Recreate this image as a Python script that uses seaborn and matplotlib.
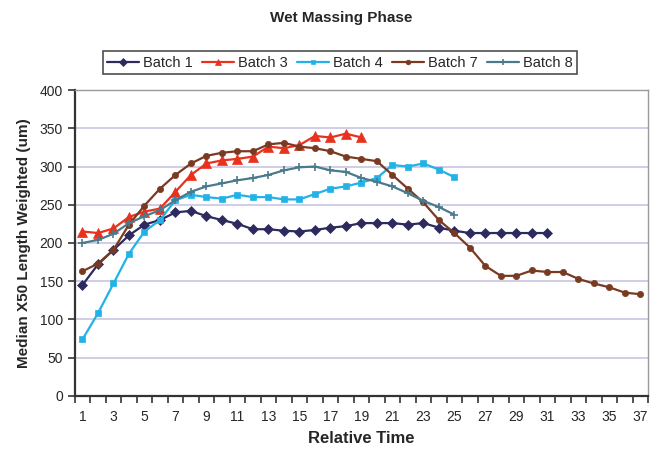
#!/usr/bin/env python3

import pandas
import seaborn as sns
import matplotlib.pyplot as plt
from matplotlib.ticker import MultipleLocator, FixedLocator

# Median X50 readings per batch
batch1 = [145, 172, 191, 210, 224, 230, 240, 242, 235, 230, 225, 218, 218, 216, 215, 217,
          220, 222, 226, 226, 226, 224, 226, 220, 216, 213, 213, 213, 213, 213, 213]
batch3 = [215, 213, 219, 234, 241, 245, 267, 289, 304, 308, 310, 313, 326, 324, 328, 340,
          338, 343, 338]
batch4 = [74, 108, 147, 186, 215, 230, 256, 263, 260, 258, 263, 260, 260, 257, 257, 264,
          271, 274, 279, 285, 302, 300, 304, 296, 286]
batch7 = [163, 173, 191, 224, 249, 271, 289, 304, 314, 318, 320, 320, 329, 331, 326, 324,
          320, 313, 310, 307, 289, 271, 253, 230, 213, 194, 170, 157, 157, 164, 162, 162,
          153, 147, 142, 135, 133]
batch8 = [200, 204, 212, 226, 235, 243, 256, 267, 274, 278, 282, 285, 289, 295, 299, 300,
          295, 293, 285, 280, 274, 265, 255, 247, 237]

series = {
    "Batch 1": batch1,
    "Batch 3": batch3,
    "Batch 4": batch4,
    "Batch 7": batch7,
    "Batch 8": batch8,
}
palette = {
    "Batch 1": "#2d2a5e",
    "Batch 3": "#e8321e",
    "Batch 4": "#22b2e6",
    "Batch 7": "#7a3a22",
    "Batch 8": "#4a7a8c",
}
markers = {"Batch 1": "D", "Batch 3": "^", "Batch 4": "s", "Batch 7": "o", "Batch 8": "+"}
msizes = {"Batch 1": 5, "Batch 3": 6.5, "Batch 4": 4.5, "Batch 7": 4.5, "Batch 8": 6}

rows = []
for name, values in series.items():
    for i, v in enumerate(values):
        rows.append([name, i + 1, v])
df = pandas.DataFrame(rows, columns=["batch", "time", "x50"])

sns.set_style("white")
plt.rcParams["font.family"] = ["Liberation Sans", "DejaVu Sans"]

fig = plt.figure(figsize=(6.5, 4.55), dpi=100)
ax = fig.add_axes([0.115, 0.13, 0.882, 0.672])

# Excel-style lavender gridlines
for y in range(50, 401, 50):
    ax.axhline(y, color="#c9c5e2", lw=1.2, zorder=0)

for name in series:
    sub = df[df.batch == name]
    sns.lineplot(
        data=sub, x="time", y="x50", ax=ax, color=palette[name], lw=1.6,
        marker=markers[name], markersize=msizes[name], markeredgecolor=palette[name],
        markeredgewidth=1.2 if name == "Batch 8" else 0.5, label=name, legend=False,
    )

ax.set_xlim(0.5, 37.5)
ax.set_ylim(0, 400)
ax.yaxis.set_major_locator(MultipleLocator(50))
ax.xaxis.set_major_locator(FixedLocator(list(range(1, 38, 2))))
ax.xaxis.set_minor_locator(FixedLocator([i + 0.5 for i in range(0, 38)]))
ax.tick_params(axis="x", which="major", length=0, labelsize=10, pad=10)
ax.tick_params(axis="x", which="minor", length=5, width=1.2, direction="out", color="#333333")
ax.tick_params(axis="y", length=5, width=1.2, direction="out", labelsize=10, color="#333333")
ax.tick_params(bottom=True, left=True, which="both")

for side in ["left", "bottom"]:
    ax.spines[side].set_color("#333333")
    ax.spines[side].set_linewidth(1.6)
for side in ["top", "right"]:
    ax.spines[side].set_color("#999999")
    ax.spines[side].set_linewidth(1.0)

ax.set_xlabel("Relative Time", fontsize=12, fontweight="bold", labelpad=5)
ax.set_ylabel("Median X50 Length Weighted (um)", fontsize=11, fontweight="bold", labelpad=6)
fig.suptitle("Wet Massing Phase", x=0.525, y=0.975, fontsize=11, fontweight="bold")

handles, labels = ax.get_legend_handles_labels()
leg = fig.legend(
    handles, labels, loc="center", bbox_to_anchor=(0.523, 0.862), ncol=5,
    fontsize=10.5, frameon=True, fancybox=False, handlelength=2.2, handletextpad=0.3,
    columnspacing=0.6, borderpad=0.3, markerscale=0.75,
)
leg.get_frame().set_edgecolor("#222222")
leg.get_frame().set_linewidth(1.2)

plt.savefig("out.png", dpi=100)
